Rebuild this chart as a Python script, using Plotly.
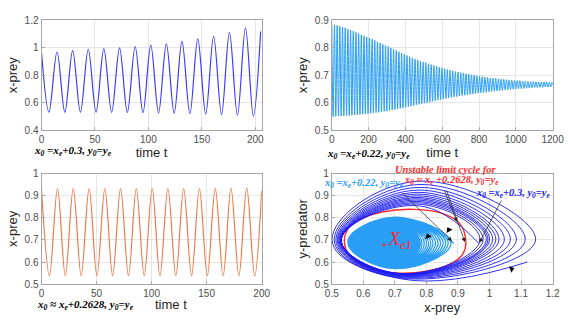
import plotly.graph_objects as go

BLUE = "#3b3bff"
DARK_BLUE = "#1c1cf2"
LIGHT_BLUE = "#2a9ef4"
ORANGE = "#ee7a4a"
RED = "#ff2a2a"
GRID = "#e6e6e6"
AXIS = "#a6a6a6"
TICK = "#4d4d4d"
SERIF = "Liberation Serif, Times New Roman, serif"
SANS = "Liberation Sans, Arial, sans-serif"

# top-left: x0 = xe+0.3, extremes of x-prey over time
TL_T = [0, 6.9, 14.5, 21.8, 29.1, 36.4, 43.7, 51.0, 58.3, 65.6, 73.0, 80.3, 87.6, 94.9,
        102.2, 109.5, 116.8, 124.1, 131.4, 138.8, 146.2, 153.6, 161.0, 168.4, 175.8,
        183.3, 190.8, 198.2, 205]
TL_X = [0.965, 0.53, 0.97, 0.53, 0.98, 0.53, 0.99, 0.53, 0.995, 0.529, 1.0, 0.528, 1.01,
        0.527, 1.02, 0.525, 1.03, 0.523, 1.047, 0.52, 1.066, 0.517, 1.085, 0.513, 1.113,
        0.508, 1.146, 0.501, 1.12]

# top-right: x0 = xe+0.22, damped oscillation
TR_PEAK_T = [0.0, 14.6, 29.2, 43.8, 58.4, 73.0, 87.6, 102.2, 116.8, 131.4, 146.0, 160.6,
             175.2, 189.8, 204.4, 219.0, 233.6, 248.2, 262.8, 277.4, 292.0, 306.6, 321.2,
             335.8, 350.4, 365.0, 379.6, 394.2, 408.8, 423.4, 438.0, 452.6, 467.2, 481.8,
             496.4, 511.0, 525.6, 540.2, 554.8, 569.4, 584.0, 598.6, 613.2, 627.8, 642.4,
             657.0, 671.6, 686.2, 700.8, 715.4, 730.0, 744.6, 759.2, 773.8, 788.4, 803.0,
             817.6, 832.2, 846.8, 861.4, 876.0, 890.6, 905.2, 919.8, 934.4, 949.0, 963.6,
             978.2, 992.8, 1007.4, 1022.0, 1036.6, 1051.2, 1065.8, 1080.4, 1095.0, 1109.6,
             1124.2, 1138.8, 1153.4, 1168.0, 1182.6, 1197.2]
TR_PEAK = [0.886, 0.884, 0.882, 0.879, 0.876, 0.873, 0.868, 0.865, 0.861, 0.857, 0.852,
           0.848, 0.844, 0.840, 0.836, 0.832, 0.827, 0.822, 0.818, 0.813, 0.809, 0.805,
           0.800, 0.795, 0.790, 0.786, 0.781, 0.777, 0.772, 0.768, 0.764, 0.760, 0.756,
           0.752, 0.749, 0.746, 0.742, 0.739, 0.736, 0.733, 0.730, 0.727, 0.724, 0.721,
           0.719, 0.717, 0.714, 0.712, 0.710, 0.708, 0.706, 0.704, 0.702, 0.700, 0.698,
           0.696, 0.695, 0.693, 0.692, 0.690, 0.689, 0.688, 0.687, 0.686, 0.685, 0.684,
           0.683, 0.682, 0.681, 0.680, 0.680, 0.679, 0.678, 0.678, 0.677, 0.677, 0.676,
           0.676, 0.675, 0.675, 0.675, 0.674, 0.674]
TR_TROUGH_T = [7.3, 21.9, 36.5, 51.1, 65.7, 80.3, 94.9, 109.5, 124.1, 138.7, 153.3, 167.9,
               182.5, 197.1, 211.7, 226.3, 240.9, 255.5, 270.1, 284.7, 299.3, 313.9, 328.5,
               343.1, 357.7, 372.3, 386.9, 401.5, 416.1, 430.7, 445.3, 459.9, 474.5, 489.1,
               503.7, 518.3, 532.9, 547.5, 562.1, 576.7, 591.3, 605.9, 620.5, 635.1, 649.7,
               664.3, 678.9, 693.5, 708.1, 722.7, 737.3, 751.9, 766.5, 781.1, 795.7, 810.3,
               824.9, 839.5, 854.1, 868.7, 883.3, 897.9, 912.5, 927.1, 941.7, 956.3, 970.9,
               985.5, 1000.1, 1014.7, 1029.3, 1043.9, 1058.5, 1073.1, 1087.7, 1102.3,
               1116.9, 1131.5, 1146.1, 1160.7, 1175.3, 1189.9]
TR_TROUGH = [0.549, 0.550, 0.551, 0.551, 0.552, 0.553, 0.553, 0.554, 0.555, 0.556, 0.557,
             0.558, 0.559, 0.560, 0.561, 0.562, 0.564, 0.565, 0.566, 0.568, 0.569, 0.571,
             0.573, 0.575, 0.577, 0.579, 0.581, 0.583, 0.585, 0.587, 0.589, 0.592, 0.594,
             0.596, 0.598, 0.600, 0.602, 0.605, 0.607, 0.609, 0.611, 0.613, 0.615, 0.617,
             0.619, 0.621, 0.622, 0.624, 0.626, 0.627, 0.629, 0.630, 0.632, 0.633, 0.635,
             0.636, 0.637, 0.638, 0.640, 0.641, 0.642, 0.643, 0.644, 0.645, 0.646, 0.647,
             0.648, 0.649, 0.650, 0.651, 0.651, 0.652, 0.653, 0.653, 0.654, 0.655, 0.655,
             0.656, 0.656, 0.657, 0.657, 0.658]
TR_END = (1200, 0.665)

# bottom-left: x0 ~ xe+0.2628, periodic orbit
BL_T = [0, 7.2, 14.5, 21.6, 28.8, 36.0, 43.2, 50.3, 57.5, 64.6, 71.8, 79.0, 86.1, 93.3,
        100.5, 107.6, 114.8, 122.0, 129.1, 136.3, 143.4, 150.6, 157.8, 165.0, 172.1,
        179.3, 186.4, 193.6, 200]
BL_X = [0.928, 0.538, 0.932, 0.538, 0.932, 0.538, 0.932, 0.538, 0.932, 0.538, 0.932,
        0.538, 0.932, 0.538, 0.932, 0.538, 0.932, 0.538, 0.932, 0.538, 0.932, 0.538,
        0.933, 0.538, 0.934, 0.538, 0.935, 0.537, 0.922]

# bottom-right phase plane
XE1 = (0.665, 0.678)
RED_X = [0.925, 0.905, 0.85, 0.76, 0.66, 0.585, 0.548, 0.54, 0.555, 0.61, 0.70, 0.80, 0.875, 0.915, 0.925]
RED_Y = [0.69, 0.775, 0.82, 0.838, 0.826, 0.79, 0.742, 0.69, 0.632, 0.576, 0.551, 0.558, 0.59, 0.636, 0.69]

# inward spiral (x0 = xe+0.22): per-loop extremes
LB_RIGHT = [0.887, 0.878, 0.869, 0.861, 0.853, 0.845, 0.837, 0.829, 0.821, 0.814, 0.807, 0.800, 0.793, 0.786, 0.780]
LB_TOP = [0.803, 0.801, 0.799, 0.797, 0.795, 0.793, 0.791, 0.789, 0.787, 0.785, 0.783, 0.781, 0.779, 0.777, 0.775]
LB_LEFT = [0.551, 0.552, 0.553, 0.554, 0.555, 0.556, 0.557, 0.558, 0.559, 0.560, 0.561, 0.562, 0.563, 0.564, 0.565]
LB_BOTTOM = [0.570, 0.571, 0.572, 0.573, 0.574, 0.575, 0.576, 0.577, 0.578, 0.579, 0.580, 0.581, 0.582, 0.583, 0.584]
LB_RIGHT_Y, LB_TOP_X, LB_LEFT_Y, LB_BOTTOM_X = 0.685, 0.70, 0.69, 0.70

# outward spiral (x0 = xe+0.3): per-loop extremes
DB_START = (0.965, 0.685)
DB_TOP = [0.855, 0.862, 0.868, 0.874, 0.880, 0.886, 0.892, 0.899, 0.907, 0.915, 0.925, 0.937, 0.950, 0.965]
DB_LEFT = [0.530, 0.530, 0.530, 0.530, 0.529, 0.528, 0.527, 0.525, 0.523, 0.520, 0.517, 0.513, 0.508, 0.501]
DB_BOTTOM = [0.548, 0.547, 0.546, 0.545, 0.544, 0.543, 0.542, 0.540, 0.538, 0.536, 0.533, 0.530, 0.527, 0.524]
DB_RIGHT = [0.97, 0.98, 0.99, 0.995, 1.0, 1.01, 1.02, 1.03, 1.047, 1.066, 1.085, 1.113, 1.146]
DB_END = (1.12, 0.60)
DB_TOP_X, DB_LEFT_Y, DB_BOTTOM_X, DB_RIGHT_Y = 0.77, 0.70, 0.72, 0.70

# direction markers on the orbits
DIR_X = [0.805, 0.871, 1.07]
DIR_Y = [0.716, 0.745, 0.568]
DIR_ANGLE = [-20, -30, 70]

# merge top-right extremes
tr_t, tr_x = [], []
for i in range(len(TR_TROUGH)):
    tr_t += [TR_PEAK_T[i], TR_TROUGH_T[i]]
    tr_x += [TR_PEAK[i], TR_TROUGH[i]]
tr_t += [TR_PEAK_T[-1], TR_END[0]]
tr_x += [TR_PEAK[-1], TR_END[1]]

# spiral paths
lb_x, lb_y = [], []
for r, t, l, b in zip(LB_RIGHT, LB_TOP, LB_LEFT, LB_BOTTOM):
    lb_x += [r, LB_TOP_X, l, LB_BOTTOM_X]
    lb_y += [LB_RIGHT_Y, t, LB_LEFT_Y, b]

db_x, db_y = [DB_START[0]], [DB_START[1]]
for i in range(len(DB_TOP)):
    db_x += [DB_TOP_X, DB_LEFT[i], DB_BOTTOM_X]
    db_y += [DB_TOP[i], DB_LEFT_Y, DB_BOTTOM[i]]
    if i < len(DB_RIGHT):
        db_x.append(DB_RIGHT[i])
        db_y.append(DB_RIGHT_Y)
db_x.append(DB_END[0])
db_y.append(DB_END[1])

SPL = dict(shape="spline", smoothing=1.3)

fig = go.Figure()
fig.add_trace(go.Scatter(x=TL_T, y=TL_X, mode="lines", line=dict(color=BLUE, width=1.2, shape="spline", smoothing=1.0), xaxis="x", yaxis="y"))
fig.add_trace(go.Scatter(x=tr_t, y=tr_x, mode="lines", line=dict(color=LIGHT_BLUE, width=1, shape="spline", smoothing=1.0), xaxis="x2", yaxis="y2"))
fig.add_trace(go.Scatter(x=BL_T, y=BL_X, mode="lines", line=dict(color=ORANGE, width=1.2, shape="spline", smoothing=1.0), xaxis="x3", yaxis="y3"))

# phase plane
fig.add_trace(go.Scatter(
    x=[LB_RIGHT[-1], LB_TOP_X, LB_LEFT[-1], LB_BOTTOM_X, LB_RIGHT[-1]],
    y=[LB_RIGHT_Y, LB_TOP[-1], LB_LEFT_Y, LB_BOTTOM[-1], LB_RIGHT_Y],
    mode="lines", fill="toself", fillcolor=LIGHT_BLUE,
    line=dict(color=LIGHT_BLUE, width=1, **SPL), xaxis="x4", yaxis="y4"))
fig.add_trace(go.Scatter(x=lb_x, y=lb_y, mode="lines", line=dict(color=LIGHT_BLUE, width=1.3, **SPL), xaxis="x4", yaxis="y4"))
fig.add_trace(go.Scatter(x=RED_X, y=RED_Y, mode="lines", line=dict(color=RED, width=1.4, shape="spline"), xaxis="x4", yaxis="y4"))
fig.add_trace(go.Scatter(x=db_x, y=db_y, mode="lines", line=dict(color=DARK_BLUE, width=0.9, **SPL), xaxis="x4", yaxis="y4"))
fig.add_trace(go.Scatter(x=DIR_X, y=DIR_Y, mode="markers",
                         marker=dict(symbol="triangle-up", size=6, color="black", angle=DIR_ANGLE),
                         xaxis="x4", yaxis="y4"))
fig.add_trace(go.Scatter(x=[XE1[0]], y=[XE1[1]], mode="markers", marker=dict(size=3, color=RED), xaxis="x4", yaxis="y4"))


def axis(domain, anchor, rng, dtick, title, standoff):
    return dict(
        domain=domain, anchor=anchor, range=rng, dtick=dtick,
        showgrid=True, gridcolor=GRID, gridwidth=1, zeroline=False,
        showline=True, linecolor=AXIS, linewidth=1, mirror=True,
        ticks="inside", ticklen=3, tickcolor=AXIS,
        tickfont=dict(family=SANS, size=10, color=TICK),
        title=dict(text=title, font=dict(family=SANS, size=13, color="#262626"), standoff=standoff),
    )


XL, XR = [0.061, 0.450], [0.5738, 0.964]
YT, YB = [0.6124, 0.9547], [0.1308, 0.4764]

fig.update_layout(
    width=585, height=331,
    margin=dict(l=0, r=0, t=0, b=0),
    paper_bgcolor="white", plot_bgcolor="white",
    showlegend=False,
    xaxis=axis(XL, "y", [0, 206], 50, "time t", 0),
    yaxis=axis(YT, "x", [0.4, 1.2], 0.2, "x-prey", 4),
    xaxis2=axis(XR, "y2", [0, 1200], 200, "time t", 0),
    yaxis2=axis(YT, "x2", [0.5, 0.9], 0.1, "x-prey", 4),
    xaxis3=axis(XL, "y3", [0, 200], 50, "", 0),
    yaxis3=axis(YB, "x3", [0.5, 1.0], 0.1, "x-prey", 4),
    xaxis4=axis(XR, "y4", [0.5, 1.2], 0.1, "x-prey", 4),
    yaxis4=axis(YB, "x4", [0.5, 1.0], 0.1, "y-predator", 4),
)

# bottom-left x title sits right of centre in the reference
fig.add_annotation(text="time t", x=169 / 585, y=1 - 309 / 331, xref="paper", yref="paper",
                   xanchor="center", yanchor="middle", showarrow=False,
                   font=dict(family=SANS, size=13, color="#262626"))

S = "&nbsp;"


def label(text, x, y, color="black", size=11, xanchor="left"):
    fig.add_annotation(text="<b><i>" + text + "</i></b>", x=x, y=y, xref="paper", yref="paper",
                       xanchor=xanchor, yanchor="middle", showarrow=False,
                       font=dict(family=SERIF, size=size, color=color))


label("x<sub>0</sub> =x<sub>e</sub>+0.3," + S + "y<sub>0</sub>=y<sub>e</sub>", 26 / 585, 1 - 150 / 331)
label("x<sub>0</sub> =x<sub>e</sub>+0.22," + S + "y<sub>0</sub>=y<sub>e</sub>", 329 / 585, 1 - 153 / 331)
label("x<sub>0</sub> ≈ x<sub>e</sub>+0.2628," + S + "y<sub>0</sub>=y<sub>e</sub>", 29 / 585, 1 - 309 / 331)

label("x<sub>0</sub> =x<sub>e</sub>+0.22," + S + "y<sub>0</sub>=y<sub>e</sub>", 326 / 585, 1 - 184 / 331, color=LIGHT_BLUE, size=10.5)
label("Unstable limit cycle for", 454 / 585, 1 - 169 / 331, color=RED, size=10.5, xanchor="center")
label("x<sub>0</sub> ≈ x<sub>e</sub> +0.2628," + S + "y<sub>0</sub>=y<sub>e</sub>", 459 / 585, 1 - 181 / 331, color=RED, size=10.5, xanchor="center")
label("x<sub>0</sub> =x<sub>e</sub>+0.3," + S + "y<sub>0</sub>=y<sub>e</sub>", 523 / 585, 1 - 194 / 331, color=DARK_BLUE, size=10.5, xanchor="center")

fig.add_annotation(text="<i>X<sub>e1</sub></i>", x=XE1[0] + 0.008, y=XE1[1] + 0.02, xref="x4", yref="y4",
                   xanchor="left", yanchor="middle", showarrow=False,
                   font=dict(family=SERIF, size=18, color=RED))

# pointer arrows from labels to orbits
ARROWS = [((0.718, 0.92), (0.881, 0.694)),
          ((0.855, 0.93), (0.897, 0.782)),
          ((0.862, 0.93), (0.922, 0.69)),
          ((1.04, 0.885), (0.968, 0.687))]
for (tx, ty), (hx, hy) in ARROWS:
    fig.add_annotation(x=hx, y=hy, ax=tx, ay=ty, xref="x4", yref="y4", axref="x4", ayref="y4",
                       text="", showarrow=True, arrowhead=2, arrowsize=1.2, arrowwidth=0.7, arrowcolor="#222222")

fig.write_html("out.html", config={"displayModeBar": False},
               post_script="document.body.style.margin='0';")
